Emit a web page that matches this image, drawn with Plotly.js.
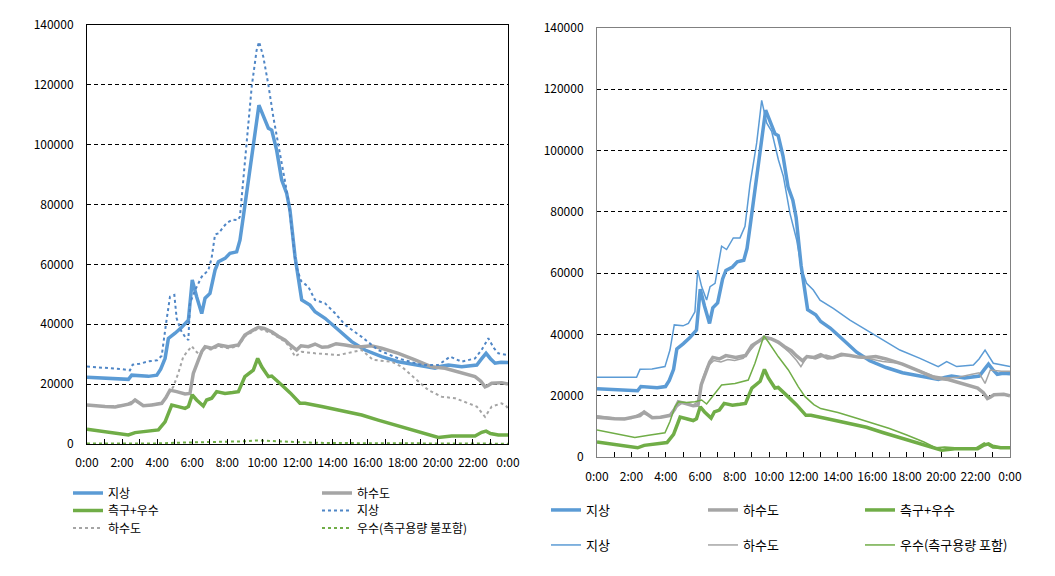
<!DOCTYPE html>
<html>
<head>
<meta charset="utf-8">
<script src="https://cdn.plot.ly/plotly-3.0.1.min.js"></script>
<style>html,body{margin:0;padding:0;background:#fff;}#chart{width:1055px;height:576px;}</style>
</head>
<body>
<div id="chart"></div>
<script>
// ---- x tick labels (hours) ----
const hourTicks = [0,1,2,3,4,5,6,7,8,9,10,11,12,13,14,15,16,17,18,19,20,21,22,23,24];
const hourLabels = ["0:00","","2:00","","4:00","","6:00","","8:00","","10:00","","12:00","","14:00","","16:00","","18:00","","20:00","","22:00","","0:00"];
const yTicks = [0,20000,40000,60000,80000,100000,120000,140000];

// ---- thick series (shared by both charts) ----
const tGround = [0,1,2,2.36,2.55,3,3.5,3.98,4.2,4.45,4.64,5.02,5.4,5.78,6.0,6.25,6.54,6.73,7.01,7.3,7.49,7.87,8.15,8.53,8.72,8.91,9.2,9.48,9.67,9.8,10.15,10.34,10.53,10.81,11.1,11.38,11.57,11.86,12.24,12.5,12.71,13.0,13.57,14.24,15.09,15.85,16.8,17.75,18.7,19.84,20.2,20.6,21.36,21.8,22.22,22.5,22.75,23.0,23.26,23.6,24];
const vGround = [22300,22100,21900,21600,23000,22800,22600,23000,25000,28600,35300,37000,39000,41400,54800,49200,43600,48700,50300,58100,60900,62000,63700,64200,68100,75900,88200,98200,108200,113200,108200,105500,104900,98200,88200,83800,78200,62600,48100,47200,46400,44200,42000,38600,34200,31400,29200,27500,26400,25300,26000,26400,25800,26000,26400,28500,30300,28500,27000,27300,27200];

const tSewer = [0,0.5,1.03,1.6,2.17,2.5,2.74,3.0,3.21,3.7,4.26,4.5,4.73,5.11,5.59,5.87,6.06,6.35,6.55,6.73,7.11,7.49,8.06,8.63,8.8,9.0,9.4,9.77,10.1,10.53,10.9,11.29,11.6,11.95,12.2,12.62,13.0,13.4,13.76,14.2,14.71,15.2,15.66,16.2,16.8,17.75,18.7,19.65,20.41,21.36,21.8,22.12,22.45,22.69,22.85,23.07,23.64,24];
const vSewer = [13000,12700,12500,12400,13000,13500,14700,13800,12800,13000,13600,15500,18000,17500,16700,16900,23600,28000,31000,32500,32000,33100,32500,33100,34500,36400,37800,39000,38600,37500,36000,34700,33000,31400,32800,32500,33400,32300,32500,33500,33100,32600,32500,32800,32000,30300,28100,25800,25300,23600,23000,22500,21000,19100,19500,20300,20500,20000];

const tDrain = [0,1,2.36,2.74,3.5,4.07,4.45,4.65,4.83,5.2,5.59,5.78,6.0,6.25,6.63,6.82,7.11,7.39,7.87,8.3,8.63,9.0,9.48,9.73,9.96,10.34,10.53,11.1,11.6,12.14,12.43,13.38,14.71,15.66,16.6,17.56,18.51,19.46,20.03,20.79,21.5,22.12,22.5,22.75,23.0,23.45,24];
const vDrain = [4900,4100,3000,3800,4300,4700,7400,10500,13000,12500,11900,12500,16400,14700,12700,14700,15300,17500,16900,17200,17500,22500,24700,28600,25800,22500,22700,19700,17000,13600,13600,12500,10800,9700,8000,6300,4700,3000,2200,2700,2600,2700,3900,4300,3500,3000,3000];

// ---- left chart dotted series ----
const tGroundDot = [0,1,2,2.45,2.6,3,3.5,4.0,4.26,4.5,4.73,4.98,5.11,5.35,5.59,5.78,5.87,6.16,6.54,6.92,7.1,7.3,7.5,7.8,8.0,8.3,8.6,8.72,9.1,9.39,9.67,9.81,10.05,10.34,10.62,11.0,11.48,11.9,12.2,12.62,13.0,13.57,14.14,14.71,15.66,16.6,17.75,19.08,20.03,20.7,21.36,22.12,22.5,22.88,23.2,23.45,24];
const vGroundDot = [25900,25500,25000,24600,26500,26800,27600,28000,29500,40000,49200,49800,42000,38000,35800,34700,47000,51400,55900,58100,62000,70000,70400,72700,74000,75000,74800,76000,99300,119400,131600,134400,129400,120000,109300,97200,81500,60000,54500,52500,48100,47000,43700,39800,35800,31400,28600,26400,26400,29200,27500,28600,31500,35300,32000,30300,29700];

const tSewerDot = [0,1.03,2.17,2.74,3.21,4.26,4.6,4.92,5.2,5.49,5.97,6.2,6.44,6.73,7.11,7.49,8.06,8.63,9.0,9.77,10.53,11.29,11.6,11.86,12.24,13.0,14.33,15.66,16.3,17.37,17.94,18.7,19.46,20.22,20.98,21.74,22.22,22.69,23.07,23.64,23.93,24];
const vSewerDot = [13000,12500,13000,14700,12800,13600,16500,19100,23600,29200,32700,31000,29700,32000,31500,32600,32000,32600,36000,38600,37000,34200,32000,29200,30800,30300,29700,31400,28100,27500,25800,21900,18000,15800,15300,13600,12500,9100,12500,13600,12500,11500];

const tRainDot = [0,2,4,5,6,7,8,9,9.7,10.5,11.5,13,15,18,21,24];
const vRainDot = [200,150,200,400,500,600,700,900,1200,1000,700,400,300,150,100,100];

// ---- right chart thin series ----
const tGroundThin = [0,1,2.3,2.5,3.2,3.95,4.24,4.49,5.0,5.31,5.69,5.85,6.08,6.37,6.57,6.86,7.24,7.53,7.92,8.31,8.6,8.89,9.28,9.57,9.86,10.15,10.54,10.83,11.21,11.6,11.9,12.18,12.57,12.96,13.73,14.7,15.67,16.64,17.6,18.77,19.83,20.32,20.9,21.4,21.87,22.2,22.55,23.03,23.6,24];
const vGroundThin = [26000,26000,26000,28600,28700,29500,34900,43100,42800,43600,47400,61000,55600,51200,55600,56700,68800,67700,71500,71500,75300,88900,102500,116400,109000,106300,97000,91600,79600,70900,61100,56700,54500,51200,48500,44700,41400,38200,34900,32200,29500,31100,29500,29800,30000,32000,34900,30600,30000,29500];

const tSewerThin = [0,1,2,2.6,3.2,4.2,4.5,5.0,5.6,5.85,6.1,6.4,6.8,7.2,7.6,8.0,8.5,9.0,9.4,9.7,10.2,10.7,11.2,11.6,11.85,12.2,12.7,13.3,13.8,14.4,15.0,15.7,16.6,17.6,18.6,19.5,20.3,21.0,21.8,22.2,22.55,22.85,23.5,24];
const vSewerThin = [13500,12700,12600,14500,13000,13400,15800,17800,17000,18000,25000,29500,31500,31000,31800,31500,32200,35500,38000,39500,38500,36500,34000,31500,29500,32700,32000,33300,32500,33200,32700,32200,31200,30600,28500,26500,25800,26000,27000,27500,24000,28400,28000,28000];

const tRainThin = [0,1,2.2,3.0,3.95,4.24,4.53,4.73,5.2,5.69,6.08,6.37,6.86,7.24,8.02,8.79,9.18,9.47,9.7,9.95,10.54,11.12,11.7,12.09,12.6,13.0,14.0,15.0,16.0,17.0,18.0,19.0,19.7,20.2,21.0,22.0,22.5,23.0,24];
const vRainThin = [8800,7600,6400,7100,7900,11600,16400,18000,17800,18000,18600,17300,20800,23500,24000,25100,30600,36000,39500,37600,32700,28400,22900,19700,17100,15800,14500,12800,11000,9300,7200,4900,3000,3300,2900,2900,4600,2900,2900];

const BLUE = '#5B9BD5', GRAY = '#A5A5A5', GREEN = '#70AD47', BLUE_DOT = '#4F86C6';
const FONT = '"Noto Sans CJK KR", "Noto Sans", sans-serif';

function tr(x, y, name, color, width, dash, xa, ya, legend) {
  return {x: x, y: y, name: name, type: 'scatter', mode: 'lines',
    line: {color: color, width: width, dash: dash || 'solid'},
    xaxis: xa, yaxis: ya, legend: legend, hoverinfo: 'skip'};
}

const data = [
  // left chart
  tr(tGround, vGround, '지상', BLUE, 3.5, null, 'x', 'y', 'legend'),
  tr(tSewer, vSewer, '하수도', GRAY, 3.5, null, 'x', 'y', 'legend'),
  tr(tDrain, vDrain, '측구+우수', GREEN, 3.5, null, 'x', 'y', 'legend2'),
  tr(tGroundDot, vGroundDot, '지상', BLUE_DOT, 2, 'dot', 'x', 'y', 'legend2'),
  tr(tSewerDot, vSewerDot, '하수도', GRAY, 2, 'dot', 'x', 'y', 'legend3'),
  tr(tRainDot, vRainDot, '우수(측구용량 불포함)', GREEN, 2, 'dot', 'x', 'y', 'legend3'),
  // right chart
  tr(tGround, vGround, '지상', BLUE, 3.5, null, 'x2', 'y2', 'legend4'),
  tr(tSewer, vSewer, '하수도', GRAY, 3.5, null, 'x2', 'y2', 'legend4'),
  tr(tDrain, vDrain, '측구+우수', GREEN, 3.5, null, 'x2', 'y2', 'legend4'),
  tr(tGroundThin, vGroundThin, '지상', BLUE, 1.5, null, 'x2', 'y2', 'legend5'),
  tr(tSewerThin, vSewerThin, '하수도', GRAY, 1.5, null, 'x2', 'y2', 'legend5'),
  tr(tRainThin, vRainThin, '우수(측구용량 포함)', GREEN, 1.5, null, 'x2', 'y2', 'legend5')
];

const W = 1055, H = 576;
function xAxis(d0, d1, lineColor, standoff) {
  return {domain: [d0 / W, d1 / W], range: [0, 24], tickmode: 'array', tickvals: hourTicks, ticktext: hourLabels,
    ticks: 'inside', ticklen: 5, tickcolor: '#000', tickwidth: 1, showgrid: false, zeroline: false,
    showline: true, mirror: true, linecolor: lineColor, linewidth: 1,
    tickfont: {family: FONT, size: 12, color: '#000'}, automargin: false, fixedrange: true, ticklabelstandoff: standoff};
}
function yAxis(top, bottom, anchor, lineColor) {
  return {domain: [1 - bottom / H, 1 - top / H], range: [0, 140000], tickmode: 'array', tickvals: yTicks,
    tickformat: 'd', ticks: '', showgrid: true, gridcolor: '#000', gridwidth: 1, griddash: '4px,3px',
    zeroline: false, showline: true, mirror: true, linecolor: lineColor, linewidth: 1, anchor: anchor,
    tickfont: {family: FONT, size: 12, color: '#000'}, automargin: false, fixedrange: true, ticklabelstandoff: 10};
}
function leg(xpx, ypx, ew, fs) {
  return {orientation: 'h', x: xpx / W, y: 1 - ypx / H, xanchor: 'left', yanchor: 'middle',
    xref: 'paper', yref: 'paper', entrywidth: ew, entrywidthmode: 'pixels', itemwidth: 30,
    bgcolor: 'rgba(0,0,0,0)', font: {family: FONT, size: fs, color: '#000'}, traceorder: 'normal'};
}

const layout = {
  width: W, height: H, margin: {l: 0, r: 0, t: 0, b: 0},
  paper_bgcolor: '#fff', plot_bgcolor: '#fff', showlegend: true,
  xaxis: xAxis(87, 508, '#000', 8), yaxis: yAxis(25, 444, 'x', '#000'),
  xaxis2: Object.assign(xAxis(597, 1010, '#808080', 9), {anchor: 'y2'}),
  yaxis2: yAxis(28, 457, 'x2', '#808080'),
  legend: leg(68, 493, 204, 12),
  legend2: leg(68, 510.5, 204, 12),
  legend3: leg(68, 528, 204, 12),
  legend4: leg(546, 510, 112, 13),
  legend5: leg(546, 545, 112, 13)
};

Plotly.newPlot('chart', data, layout, {staticPlot: true, displayModeBar: false});
</script>
</body>
</html>
